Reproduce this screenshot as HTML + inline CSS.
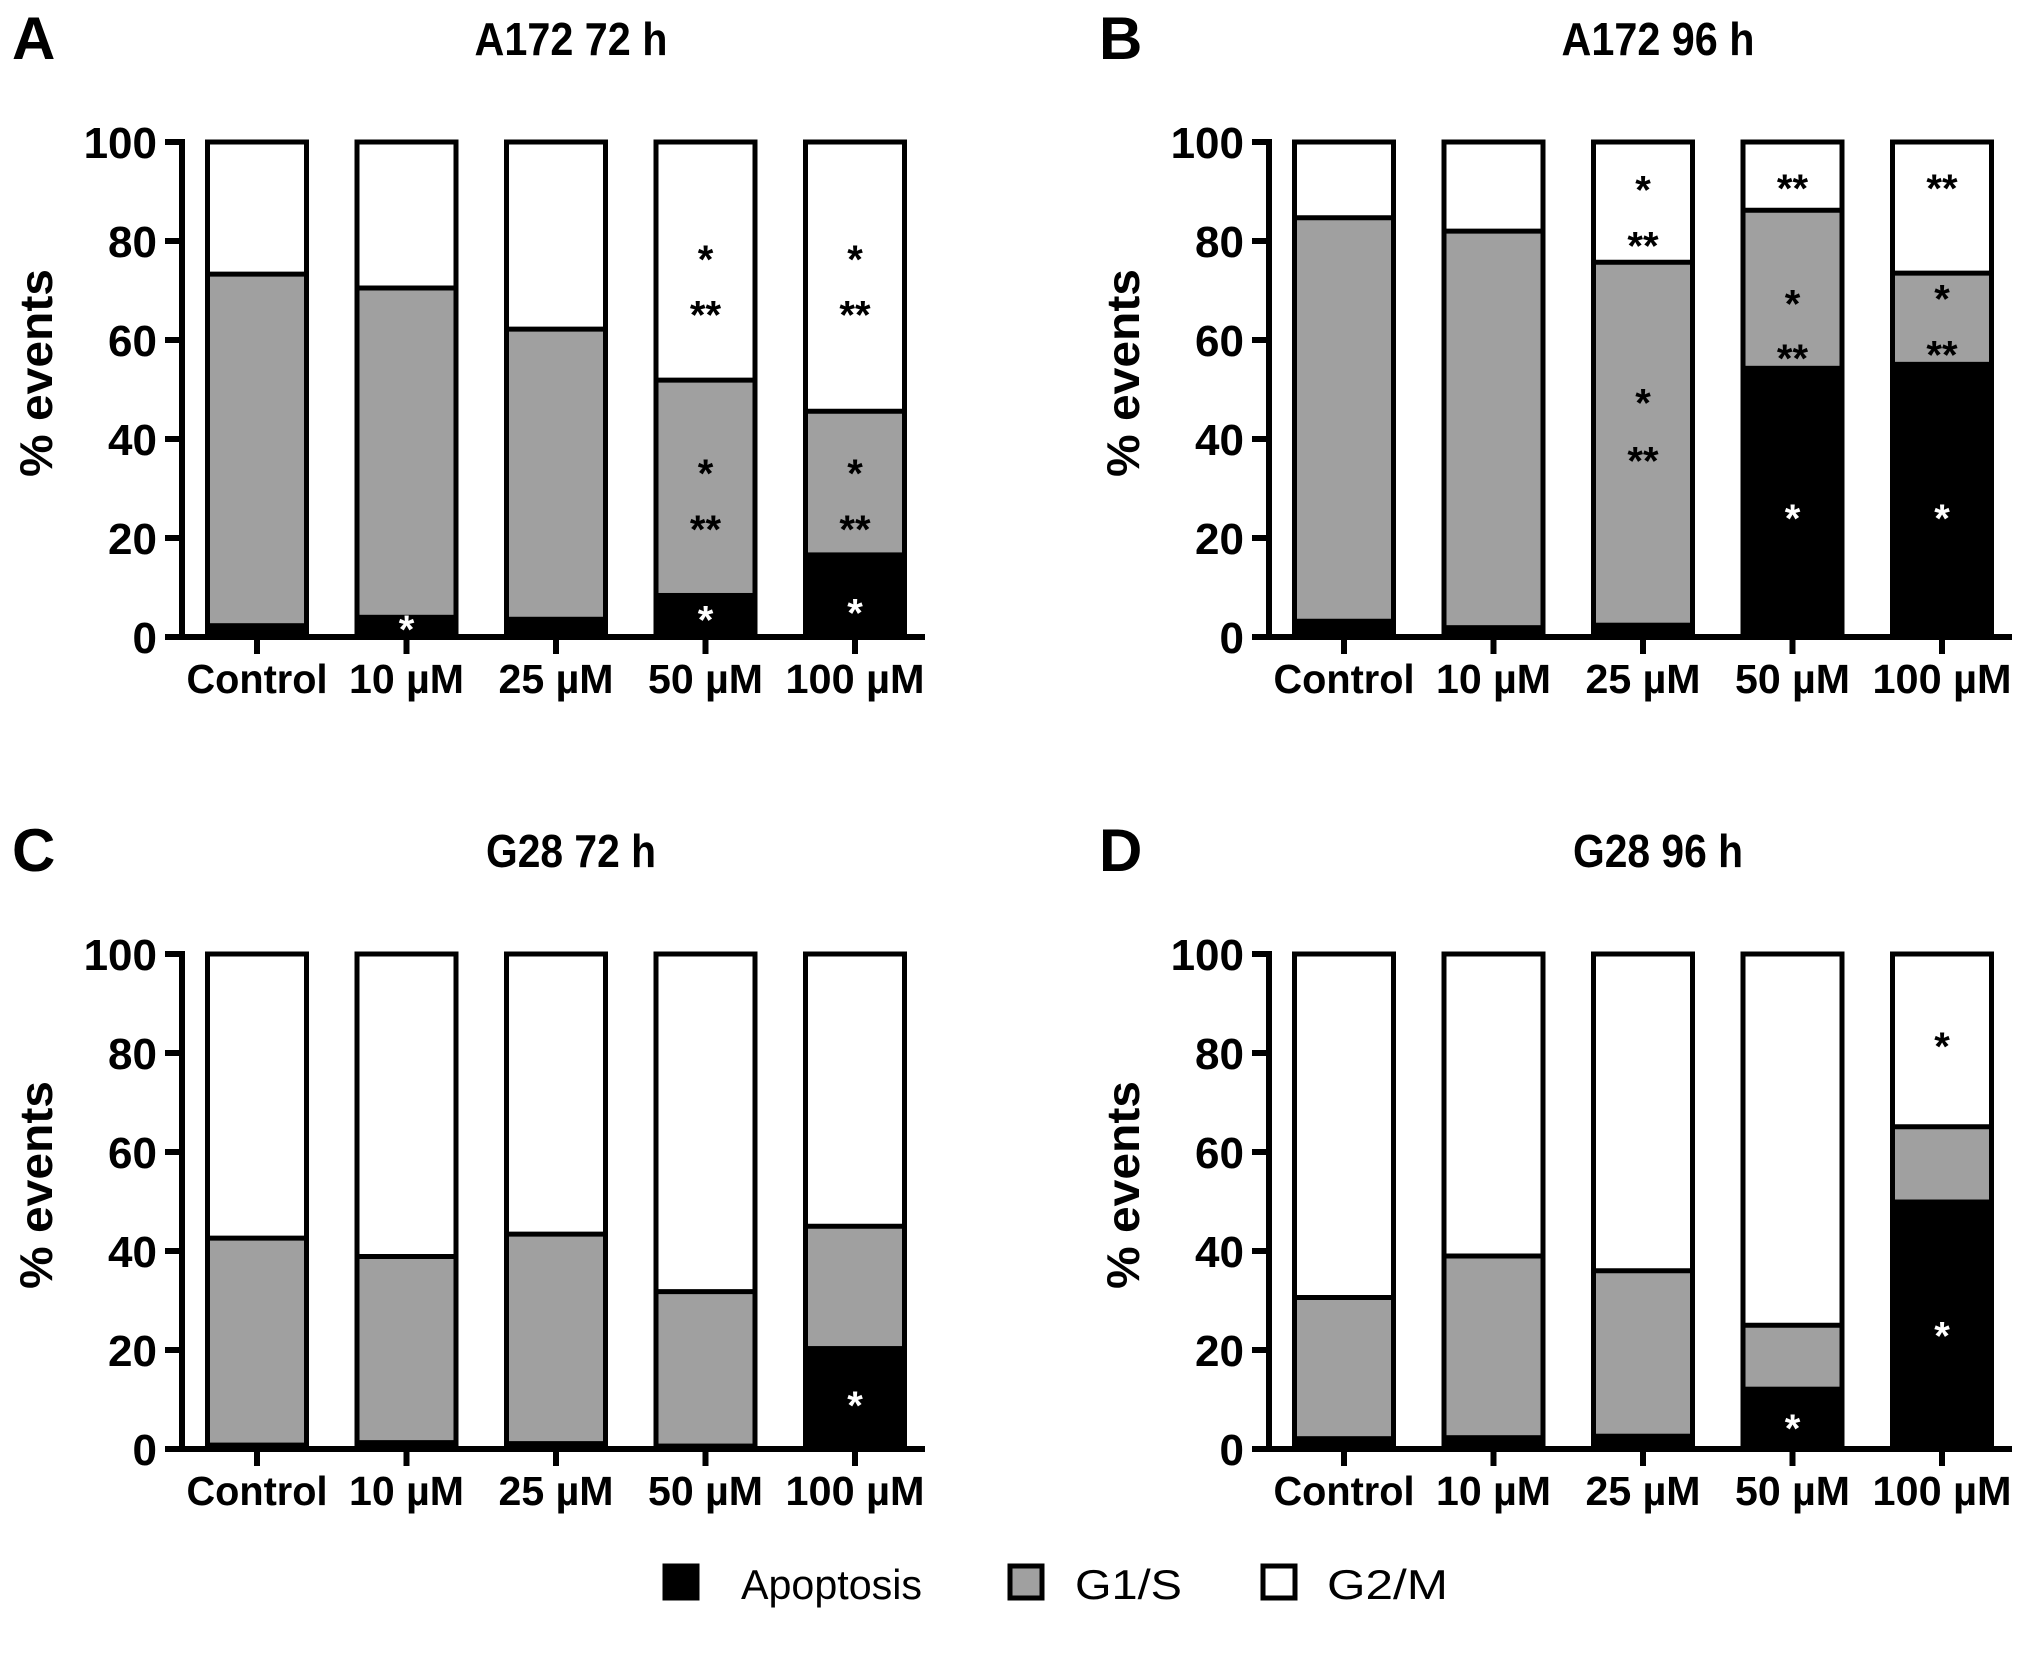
<!DOCTYPE html>
<html><head><meta charset="utf-8"><style>
html,body{margin:0;padding:0;background:#fff;}
svg{display:block;font-family:"Liberation Sans",Arial,sans-serif;}
</style></head><body>
<svg id="fig" width="2031" height="1655" viewBox="0 0 2031 1655" xmlns="http://www.w3.org/2000/svg"></svg>
<script>
const categories = ["Control", "10 µM", "25 µM", "50 µM", "100 µM"];
const yTicks = [0, 20, 40, 60, 80, 100];
const panelLetters = ["A", "B", "C", "D"];
const panelTitles = ["A172 72 h", "A172 96 h", "G28 72 h", "G28 96 h"];
const titleWidths = [193, 193, 170, 170];
// Apoptosis (bottom) and cumulative G1/S top for each panel
const apoA = [2.8, 4.5, 4.1, 8.9, 17.1];
const g1TopA = [73.3, 70.5, 62.2, 51.9, 45.6];
const apoB = [3.7, 2.4, 2.9, 54.8, 55.6];
const g1TopB = [84.7, 82.0, 75.7, 86.2, 73.5];
const apoC = [1.3, 1.8, 1.6, 1.1, 20.8];
const g1TopC = [42.6, 38.9, 43.4, 31.8, 45.0];
const apoD = [2.6, 2.8, 3.1, 12.6, 50.4];
const g1TopD = [30.6, 39.0, 36.0, 25.0, 65.1];
// significance marks: [barIndex, value, text, color]
const starsA = [[1,3.2,"*","#fff"],[3,5.2,"*","#fff"],[3,34.7,"*","#000"],[3,23.4,"**","#000"],[3,78,"*","#000"],[3,66.8,"**","#000"],
                [4,6.6,"*","#fff"],[4,34.7,"*","#000"],[4,23.4,"**","#000"],[4,78,"*","#000"],[4,66.8,"**","#000"]];
const starsB = [[2,92,"*","#000"],[2,80.7,"**","#000"],[2,49,"*","#000"],[2,37.3,"**","#000"],
                [3,92.3,"**","#000"],[3,69,"*","#000"],[3,58,"**","#000"],[3,25.7,"*","#fff"],
                [4,92.3,"**","#000"],[4,70,"*","#000"],[4,58.7,"**","#000"],[4,25.7,"*","#fff"]];
const starsC = [[4,10.5,"*","#fff"]];
const starsD = [[3,5.9,"*","#fff"],[4,83,"*","#000"],[4,24.5,"*","#fff"]];
const catWidths = [141, 115, 115, 115, 139];

const NS = "http://www.w3.org/2000/svg";
const svg = document.getElementById("fig");
function mk(tag, attrs, parent) {
  const e = document.createElementNS(NS, tag);
  for (const k in attrs) e.setAttribute(k, attrs[k]);
  (parent || svg).appendChild(e);
  return e;
}
const panels = [
  {dx:0, dy:0, apo:apoA, g1:g1TopA, stars:starsA},
  {dx:1087, dy:0, apo:apoB, g1:g1TopB, stars:starsB},
  {dx:0, dy:812, apo:apoC, g1:g1TopC, stars:starsC},
  {dx:1087, dy:812, apo:apoD, g1:g1TopD, stars:starsD}
];
const Y0 = 637, Y100 = 142, BAR0 = 257, STEP = 149.5, BW = 99;
panels.forEach((p, pi) => {
  const g = mk("g", {transform:`translate(${p.dx},${p.dy})`});
  
  
  const y = v => Y0 - (Y0 - Y100) * v / 100;
  const x = i => BAR0 + STEP * i;
  const letter = mk("text", {x:12, y:59, "font-size":60, "font-weight":"bold"}, g);
  letter.textContent = panelLetters[pi];
  
  
  const title = mk("text", {x:571, y:55, "font-size":46, "font-weight":"bold", "text-anchor":"middle", textLength:titleWidths[pi], lengthAdjust:"spacingAndGlyphs"}, g);
  title.textContent = panelTitles[pi];
  
  
  const yt = mk("text", {x:0, y:0, "font-size":46, "font-weight":"bold", "text-anchor":"middle", transform:"translate(52,373) rotate(-90)", textLength:208, lengthAdjust:"spacingAndGlyphs"}, g);
  yt.textContent = "% events";
  
  
  categories.forEach((c, i) => {
    const bg = mk("g", {}, g);
    
    
    const l = x(i) - BW/2;
    const w = mk("rect", {x:l, y:y(100), width:BW, height:y(p.g1[i]) - y(100), fill:"#fff"}, bg);
    
    
    const gr = mk("rect", {x:l, y:y(p.g1[i]), width:BW, height:y(p.apo[i]) - y(p.g1[i]), fill:"#a0a0a0"}, bg);
    
    
    const bk = mk("rect", {x:l, y:y(p.apo[i]), width:BW, height:Y0 - y(p.apo[i]), fill:"#000"}, bg);
    
    
    mk("line", {x1:l, x2:l+BW, y1:y(p.g1[i]), y2:y(p.g1[i]), stroke:"#000", "stroke-width":5}, bg);
    mk("rect", {x:l, y:y(100), width:BW, height:Y0 - y(100), fill:"none", stroke:"#000", "stroke-width":5}, bg);
    const ct = mk("text", {x:x(i), y:693, "font-size":41, "font-weight":"bold", "text-anchor":"middle", textLength:catWidths[i], lengthAdjust:"spacingAndGlyphs"}, g);
    ct.textContent = c;
    
    
    mk("line", {x1:x(i), x2:x(i), y1:Y0, y2:654, stroke:"#000", "stroke-width":6}, g);
  });
  const ax = mk("path", {d:`M182 ${Y100-3} V${Y0} M165 ${Y0} H925`, stroke:"#000", "stroke-width":6, fill:"none"}, g);
  
  
  yTicks.forEach(t => {
    mk("line", {x1:165, x2:182, y1:y(t), y2:y(t), stroke:"#000", "stroke-width":6}, g);
    const tl = mk("text", {x:157, y:y(t) + 16, "font-size":44, "font-weight":"bold", "text-anchor":"end"}, g);
    tl.textContent = t;
    
    
  });
  p.stars.forEach(s => {
    const st = mk("text", {x:x(s[0]), y:y(s[1]) + 22, "font-size":40, "font-weight":"bold", "text-anchor":"middle", fill:s[3]}, g);
    st.textContent = s[2];
    
    
  });
});
const legendLabels = ["Apoptosis", "G1/S", "G2/M"];
const legendFills = ["#000", "#a0a0a0", "#fff"];
const legendX = [663, 1008, 1261];
const legendTextX = [741, 1075, 1327];
const legendTextW = [181, 107, 121];
legendLabels.forEach((lab, i) => {
  const lg = mk("g", {});
  
  
  mk("rect", {x:legendX[i] + 2, y:1566, width:32, height:32, fill:legendFills[i], stroke:"#000", "stroke-width":5}, lg);
  const t = mk("text", {x:legendTextX[i], y:1599, "font-size":42, textLength:legendTextW[i], lengthAdjust:"spacingAndGlyphs"}, lg);
  t.textContent = lab;
});
</script>
</body></html>
